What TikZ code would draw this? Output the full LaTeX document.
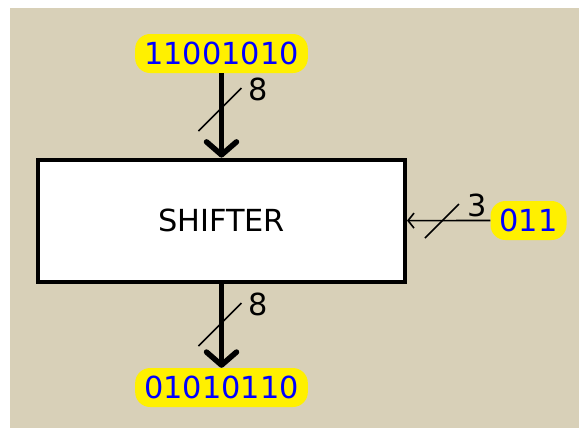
\documentclass[tikz,border=0pt]{standalone}
\usepackage{fontspec}
\setmainfont{DejaVu Sans}
\usepackage{tikz}
\usetikzlibrary{
  arrows.meta,
  positioning,
  calc,
}
\definecolor{paper}{HTML}{D8D0B8}
\definecolor{chipfill}{HTML}{FFF000}
\definecolor{bitblue}{HTML}{0000FF}
\tikzset{
  font=\fontsize{30.5}{35}\selectfont,
  bits/.style={
    fill=chipfill,
    rounded corners=15bp,
    minimum height=39bp,
    inner xsep=9bp,
    inner ysep=0pt,
    text=bitblue,
  },
  unit/.style={
    draw=black,
    fill=white,
    line width=4bp,
    minimum width=367bp,
    minimum height=122bp,
  },
  bus/.style={line width=5.5bp, -{Straight Barb[round, length=13bp, width=30bp]}},
  wire/.style={line width=1.6bp, -{Straight Barb[length=6bp, width=15bp]}},
  tick/.style={line width=1.6bp},
  width/.style={inner sep=0pt, text=black},
}

\begin{document}
\begin{tikzpicture}[x=1bp,y=-1bp]
  \useasboundingbox (0,0) rectangle (579,428);
  \fill[paper] (10,8) rectangle (579,428);

  % shifter block
  \node[unit] (shifter) at (221.5,220.6) {SHIFTER};

  % operands
  \node[bits] (inbits) at (221.5,53.5) {11001010};
  \node[bits] (amount) at (528.5,220.5) {011};
  \node[bits] (outbits) at (221.5,387.5) {01010110};

  % data in
  \draw[bus] (inbits.south) -- (shifter.north);
  \coordinate (tin) at (220,109.5);
  \draw[tick] (tin) ++(-21.5,21.5) -- ++(43,-43);
  \node[width] (win) at ([shift={(38,-20)}]tin) {8};

  % shift amount
  \draw[wire] (amount.west) -- (shifter.east);
  \coordinate (tamt) at (442,221);
  \draw[tick] (tamt) ++(-17,17) -- ++(34,-34);
  \node[width] (wamt) at ([shift={(35,-16)}]tamt) {3};

  % data out
  \draw[bus] (shifter.south) -- (outbits.north);
  \coordinate (tout) at (220,324.5);
  \draw[tick] (tout) ++(-21.5,21.5) -- ++(43,-43);
  \node[width] (wout) at ([shift={(38,-20)}]tout) {8};
\end{tikzpicture}
\end{document}
